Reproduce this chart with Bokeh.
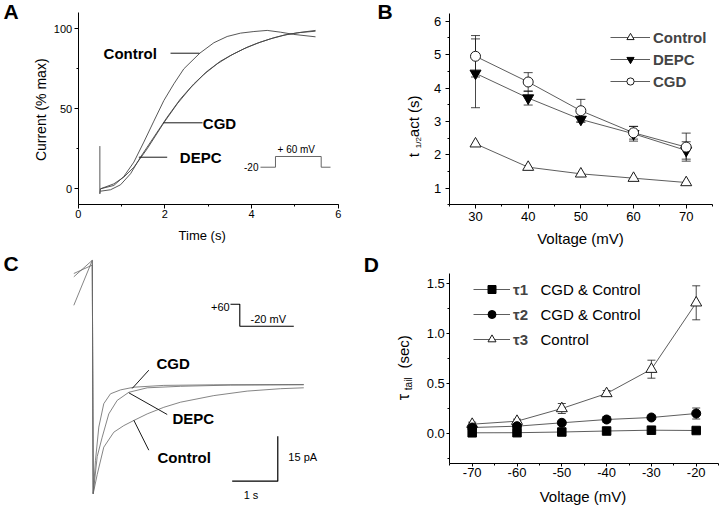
from math import pi
from bokeh.plotting import figure
from bokeh.models import (Label, Whisker, TeeHead, ColumnDataSource, Legend, LegendItem,
                          SingleIntervalTicker, Range1d, NumeralTickFormatter)
from bokeh.layouts import column, row
from bokeh.embed import file_html
from bokeh.resources import INLINE

FONT = "Liberation Sans"
INK = "#1a1a1a"
TRACE = "#444444"

# ---------------- Panel A: normalized activation traces ----------------
tA_control = [0.50, 0.50, 0.515, 0.823, 1.054, 1.285, 1.515, 1.746, 1.977, 2.208, 2.438, 2.808,
              3.131, 3.438, 3.746, 4.054, 4.362, 4.669, 4.977, 5.477]
yA_control = [26.7, -3.1, 0.0, 2.1, 7.7, 16.7, 29.2, 42.3, 55.2, 65.6, 75.0, 84.8,
              91.3, 95.2, 97.3, 98.3, 99.0, 97.9, 96.5, 95.0]
tA_cgd = [0.515, 0.823, 1.054, 1.285, 1.592, 1.977, 2.285, 2.592, 2.900, 3.208, 3.515,
          3.823, 4.131, 4.438, 4.746, 5.054, 5.477]
yA_cgd = [0.0, 3.1, 7.3, 13.5, 25.0, 41.3, 53.1, 63.1, 71.5, 78.1, 83.3,
          87.5, 91.0, 93.75, 96.0, 97.5, 99.0]
tA_depc = [0.515, 0.746, 0.977, 1.208, 1.438, 1.746, 2.054, 2.362, 2.669, 2.977, 3.285,
           3.592, 3.900, 4.208, 4.515, 4.823, 5.131, 5.477]
yA_depc = [-1.5, -0.6, 2.5, 9.4, 19.8, 32.3, 44.8, 56.25, 65.6, 73.5, 79.8,
           84.4, 88.5, 91.7, 94.4, 96.5, 97.7, 98.5]
protoA_t = [4.207, 4.553, 4.553, 5.608, 5.608, 5.823]
protoA_y = [13.5, 13.5, 20.2, 20.2, 13.5, 13.5]

# ---------------- Panel B: t1/2 activation ----------------
volt_B = [30, 40, 50, 60, 70]
ctrl_B = [2.33, 1.63, 1.43, 1.30, 1.17]
depc_B = [4.44, 3.70, 3.06, 2.63, 2.13]
depc_B_err = [1.03, 0.21, 0.08, 0.22, 0.26]
cgd_B = [4.95, 4.18, 3.32, 2.66, 2.23]
cgd_B_err = [0.62, 0.28, 0.34, 0.19, 0.42]

# ---------------- Panel C: tail currents (s, pA) ----------------
tC_control = [-0.425, -0.02, 0.0, 0.088, 0.232, 0.452, 0.671, 0.890, 1.184, 1.548, 1.914,
              2.645, 3.377, 4.108, 4.618]
iC_control = [26.4, 41.4, -36.4, -30.0, -20.9, -15.9, -13.7, -12.0, -9.8, -7.6, -5.9,
              -3.7, -2.2, -1.4, -1.1]
tC_cgd = [-0.425, -0.02, 0.0, 0.050, 0.123, 0.232, 0.379, 0.599, 0.890, 1.548, 2.645, 4.618]
iC_cgd = [35.9, 41.4, -36.4, -25.3, -14.2, -6.4, -3.1, -1.8, -0.9, -0.3, -0.1, 0.0]
tC_depc = [-0.425, -0.02, 0.0, 0.088, 0.197, 0.342, 0.526, 0.781, 1.184, 1.914, 3.011, 4.618]
iC_depc = [37.0, 39.8, -36.4, -24.0, -17.6, -9.8, -5.3, -2.6, -1.1, -0.6, -0.2, -0.1]
protoC_t = [3.011, 3.215, 3.215, 4.399]
protoC_i = [26.77, 26.77, 19.43, 19.43]
scale_t = [3.048, 4.048, 4.048]
scale_i = [-32.23, -32.23, -17.23]

# ---------------- Panel D: tail time constants ----------------
volt_D = [-70, -60, -50, -40, -30, -20]
tau1 = [0.007, 0.008, 0.015, 0.025, 0.033, 0.030]
tau2 = [0.060, 0.073, 0.107, 0.140, 0.160, 0.200]
tau2_err = [0.010, 0.010, 0.015, 0.030, 0.020, 0.055]
tau3 = [0.093, 0.123, 0.250, 0.400, 0.643, 1.307]
tau3_err = [0.020, 0.020, 0.050, 0.030, 0.090, 0.170]


def panel_fig(xr, yr, axes=True):
    kw = {}
    if not axes:
        kw = dict(x_axis_location=None, y_axis_location=None)
    p = figure(width=360, height=253, x_range=Range1d(*xr), y_range=Range1d(*yr),
               output_backend="svg", toolbar_location=None, min_border=0, **kw)
    p.min_border_left = 0
    p.min_border_right = 0
    p.min_border_top = 0
    p.min_border_bottom = 0
    p.outline_line_color = None
    p.xgrid.visible = False
    p.ygrid.visible = False
    p.background_fill_color = "white"
    p.border_fill_color = "white"
    return p


def style_axis(ax, tick_size, major_out, tick_standoff, loc, bounds):
    ax.fixed_location = loc
    ax.bounds = bounds
    ax.axis_line_color = "black"
    ax.axis_line_width = 1
    ax.major_tick_line_color = "black"
    ax.minor_tick_line_color = "black"
    ax.major_tick_out = major_out
    ax.major_tick_in = 0
    ax.minor_tick_out = 2
    ax.minor_tick_in = 0
    ax.major_label_text_font = FONT
    ax.major_label_text_font_size = f"{tick_size}px"
    ax.major_label_text_color = "black"
    ax.major_label_standoff = tick_standoff


def txt(p, x, y, s, size, bold=False, align="left", baseline="middle", units="data", angle=0.0):
    p.add_layout(Label(x=x, y=y, text=s, x_units=units, y_units=units, text_font=FONT,
                       text_font_size=f"{size}px", text_font_style="bold" if bold else "normal",
                       text_align=align, text_baseline=baseline, angle=angle, text_color="black"))


# ======== A ========
pA = panel_fig((-1.793, 6.515), (-40.44, 117.7))
pA.xaxis.ticker = SingleIntervalTicker(interval=2, num_minor_ticks=2)
pA.yaxis.ticker = SingleIntervalTicker(interval=50, num_minor_ticks=2)
style_axis(pA.xaxis[0], 11, 4, 1, -10, (0, 6))
style_axis(pA.yaxis[0], 11, 4, 2, 0, (-10, 110))
pA.line(tA_depc, yA_depc, line_color=TRACE, line_width=0.9)
pA.line(tA_cgd, yA_cgd, line_color=TRACE, line_width=0.9)
pA.line(tA_control, yA_control, line_color=TRACE, line_width=0.9)
pA.line(protoA_t, protoA_y, line_color="#555555", line_width=0.9)
pA.line([2.131, 2.80], [84.75, 84.75], line_color=INK, line_width=1)
pA.line([1.969, 2.869], [41.25, 41.25], line_color=INK, line_width=1)
pA.line([1.40, 2.054], [19.75, 19.75], line_color=INK, line_width=1)
txt(pA, 0.586, 84.6, "Control", 15, bold=True)
txt(pA, 2.876, 41.0, "CGD", 15, bold=True)
txt(pA, 2.345, 19.4, "DEPC", 15, bold=True)
txt(pA, 4.161, 13.5, "-20", 10, align="right")
txt(pA, 4.60, 24.4, "+ 60 mV", 10)
txt(pA, 2.86, -29.4, "Time (s)", 13, align="center")
txt(pA, -0.859, 49.4, "Current (% max)", 14, align="center", angle=pi / 2)
txt(pA, -1.724, 111.1, "A", 21, bold=True)

# ======== B ========
pB = panel_fig((8.168, 76.51), (-0.955, 6.62))
pB.xaxis.ticker = SingleIntervalTicker(interval=10, num_minor_ticks=2)
pB.yaxis.ticker = SingleIntervalTicker(interval=1, num_minor_ticks=2)
style_axis(pB.xaxis[0], 13, 4, 3, 0.5, (25, 75))
style_axis(pB.yaxis[0], 13, 4, 4, 25, (0.5, 6.23))

srcB_depc = ColumnDataSource(dict(x=volt_B, lo=[v - e for v, e in zip(depc_B, depc_B_err)],
                                  hi=[v + e for v, e in zip(depc_B, depc_B_err)]))
srcB_cgd = ColumnDataSource(dict(x=volt_B, lo=[v - e for v, e in zip(cgd_B, cgd_B_err)],
                                 hi=[v + e for v, e in zip(cgd_B, cgd_B_err)]))
for src in (srcB_depc, srcB_cgd):
    pB.add_layout(Whisker(source=src, base="x", lower="lo", upper="hi", line_color=INK,
                          line_width=0.8, level="underlay",
                          upper_head=TeeHead(size=9, line_color=INK, line_width=0.8),
                          lower_head=TeeHead(size=9, line_color=INK, line_width=0.8)))

lb_c = pB.line(volt_B, ctrl_B, line_color="#333333", line_width=0.8)
mb_c = pB.scatter(volt_B, ctrl_B, marker="triangle", size=11, fill_color="white", line_color=INK, line_width=1)
lb_d = pB.line(volt_B, depc_B, line_color="#333333", line_width=0.8)
mb_d = pB.scatter(volt_B, depc_B, marker="inverted_triangle", size=11, fill_color="black", line_color="black")
lb_g = pB.line(volt_B, cgd_B, line_color="#333333", line_width=0.8)
mb_g = pB.scatter(volt_B, cgd_B, marker="circle", size=10, fill_color="white", line_color=INK, line_width=1)
legB = Legend(items=[LegendItem(label="Control", renderers=[lb_c, mb_c]),
                     LegendItem(label="DEPC", renderers=[lb_d, mb_d]),
                     LegendItem(label="CGD", renderers=[lb_g, mb_g])],
              location=(250, 163), glyph_width=40, glyph_height=18, label_height=18,
              spacing=4, padding=0, margin=0, border_line_color=None, background_fill_alpha=0,
              label_text_font=FONT, label_text_font_size="15px", label_text_font_style="bold",
              label_standoff=3)
pB.add_layout(legB)
txt(pB, 49.93, -0.515, "Voltage (mV)", 15, align="center")
txt(pB, 18.29, 1.928, "t", 15, angle=pi / 2)
txt(pB, 19.24, 2.20, "1/2", 8, angle=pi / 2)
txt(pB, 18.29, 2.527, "act (s)", 15, angle=pi / 2)
txt(pB, 11.4, 6.305, "B", 21, bold=True)

# ======== C ========
pC = panel_fig((-2.033, 5.862), (-40.67, 43.67), axes=False)
pC.line(tC_control, iC_control, line_color="#666666", line_width=0.8)
pC.line(tC_depc, iC_depc, line_color="#666666", line_width=0.8)
pC.line(tC_cgd, iC_cgd, line_color="#666666", line_width=0.8)
pC.line(protoC_t, protoC_i, line_color="black", line_width=1.1)
pC.line(scale_t, scale_i, line_color="black", line_width=1.2)
pC.line([0.855, 1.219], [-1.33, 4.77], line_color=INK, line_width=1)
pC.line([0.781, 1.623], [-2.77, -10.0], line_color=INK, line_width=1)
pC.line([0.890, 1.219], [-11.9, -21.9], line_color=INK, line_width=1)
txt(pC, 1.388, 7.0, "CGD", 15, bold=True)
txt(pC, 1.739, -11.33, "DEPC", 15, bold=True)
txt(pC, 1.41, -24.33, "Control", 15, bold=True)
txt(pC, 2.993, 26.0, "+60", 11, align="right")
txt(pC, 3.45, 21.67, "-20 mV", 11)
txt(pC, 4.28, -24.33, "15 pA", 11)
txt(pC, 3.46, -36.67, "1 s", 11, align="center")
txt(pC, -1.967, 40.17, "C", 21, bold=True)

# ======== D ========
pD = panel_fig((-94.93, -14.58), (-0.73, 1.8))
pD.xaxis.ticker = SingleIntervalTicker(interval=10, num_minor_ticks=2)
pD.xaxis.formatter = NumeralTickFormatter(format="0")
pD.yaxis.ticker = SingleIntervalTicker(interval=0.5, num_minor_ticks=2)
pD.yaxis.formatter = NumeralTickFormatter(format="0.0")
style_axis(pD.xaxis[0], 13, 3, 1, -0.3, (-75, -15))
style_axis(pD.yaxis[0], 13, 3, 2, -75, (-0.3, 1.6))

srcD2 = ColumnDataSource(dict(x=volt_D, lo=[v - e for v, e in zip(tau2, tau2_err)],
                              hi=[v + e for v, e in zip(tau2, tau2_err)]))
srcD3 = ColumnDataSource(dict(x=volt_D, lo=[v - e for v, e in zip(tau3, tau3_err)],
                              hi=[v + e for v, e in zip(tau3, tau3_err)]))
for src in (srcD2, srcD3):
    pD.add_layout(Whisker(source=src, base="x", lower="lo", upper="hi", line_color=INK,
                          line_width=0.8, level="underlay",
                          upper_head=TeeHead(size=8, line_color=INK, line_width=0.8),
                          lower_head=TeeHead(size=8, line_color=INK, line_width=0.8)))

ld3 = pD.line(volt_D, tau3, line_color="#333333", line_width=0.8)
md3 = pD.scatter(volt_D, tau3, marker="triangle", size=11, fill_color="white", line_color=INK, line_width=1)
ld2 = pD.line(volt_D, tau2, line_color="#333333", line_width=0.8)
md2 = pD.scatter(volt_D, tau2, marker="circle", size=9, fill_color="black", line_color="black")
ld1 = pD.line(volt_D, tau1, line_color="#333333", line_width=0.8)
md1 = pD.scatter(volt_D, tau1, marker="square", size=8.5, fill_color="black", line_color="black")
legD = Legend(items=[LegendItem(label="τ1", renderers=[ld1, md1]),
                     LegendItem(label="τ2", renderers=[ld2, md2]),
                     LegendItem(label="τ3", renderers=[ld3, md3])],
              location=(113, 157), glyph_width=37, glyph_height=20, label_height=20,
              spacing=5, padding=0, margin=0, border_line_color=None, background_fill_alpha=0,
              label_text_font=FONT, label_text_font_size="15px", label_text_font_style="bold",
              label_standoff=3)
pD.add_layout(legD)
txt(pD, 180, 217, "CGD & Control", 15, units="screen")
txt(pD, 180, 192, "CGD & Control", 15, units="screen")
txt(pD, 180, 167, "Control", 15, units="screen")
txt(pD, -45.27, -0.627, "Voltage (mV)", 15, align="center")
txt(pD, -85.27, 0.333, "τ", 16, angle=pi / 2)
txt(pD, -84.29, 0.433, "tail", 10, angle=pi / 2)
txt(pD, -85.27, 0.65, "(sec)", 15, angle=pi / 2)
txt(pD, -94.2, 1.695, "D", 21, bold=True)

layout = column(row(pA, pB), row(pC, pD))
open("out.html", "w").write(file_html(layout, INLINE))
